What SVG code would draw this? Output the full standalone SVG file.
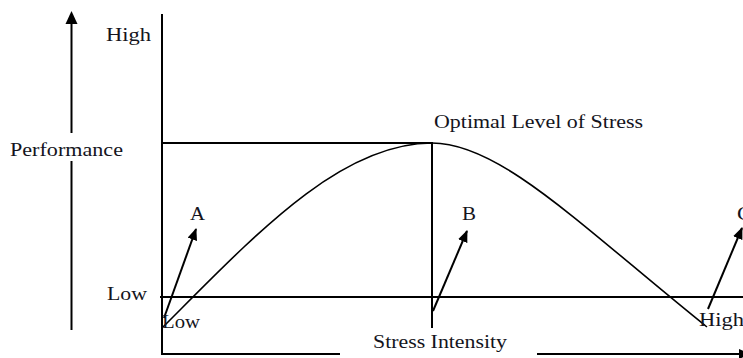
<svg xmlns="http://www.w3.org/2000/svg" width="743" height="358" viewBox="0 0 743 358">
  <style>
    .ax { stroke: #000; stroke-width: 2; fill: none; }
    .cv { stroke: #000; stroke-width: 1.6; fill: none; }
    .ar { stroke: #000; stroke-width: 2; fill: none; marker-end: url(#head); }
    text { font-family: "Liberation Serif", "Times New Roman", serif; font-size: 18px; fill: #141420; }
  </style>
  <defs>
    <marker id="head" viewBox="0 0 12 10" refX="11" refY="5" markerWidth="12" markerHeight="10" markerUnits="userSpaceOnUse" orient="auto">
      <path d="M0,0 L12,5 L0,10 Z" fill="#000"/>
    </marker>
  </defs>
  <rect width="743" height="358" fill="#fff"/>

  <g id="performance-axis">
    <line class="ax" x1="71.5" y1="24" x2="71.5" y2="133"/>
    <polygon points="71.5,11 65.5,24 77.5,24" fill="#000"/>
    <line class="ax" x1="71.5" y1="161" x2="71.5" y2="330"/>
    <text x="10" y="156" textLength="113" lengthAdjust="spacingAndGlyphs">Performance</text>
  </g>

  <g id="frame">
    <line class="ax" x1="162" y1="14" x2="162" y2="354"/>
    <line class="ax" x1="161" y1="354" x2="340" y2="354"/>
    <line class="ax" x1="537" y1="354" x2="740" y2="354"/>
    <polygon points="739,349 751,354 739,359" fill="#000"/>
    <line class="ax" x1="162" y1="143" x2="433" y2="143"/>
    <line class="ax" x1="432" y1="143" x2="432" y2="328"/>
    <line class="ax" x1="160" y1="297" x2="743" y2="297"/>
  </g>

  <g id="curve">
    <path class="cv" d="M163,327 C 255,235 340,143 432,143 C 500,143 580,225 707,327"/>
  </g>

  <g id="connectors">
    <line class="ar" x1="164" y1="318" x2="196" y2="229"/>
    <line class="ar" x1="433" y1="311" x2="467" y2="231"/>
    <line class="ar" x1="708" y1="309" x2="742" y2="228"/>
  </g>

  <g id="labels">
    <text x="106" y="41" textLength="45" lengthAdjust="spacingAndGlyphs">High</text>
    <text x="107" y="300" textLength="40" lengthAdjust="spacingAndGlyphs">Low</text>
    <text x="162" y="328" textLength="38" lengthAdjust="spacingAndGlyphs">Low</text>
    <text x="699" y="326" textLength="45" lengthAdjust="spacingAndGlyphs">High</text>
    <text x="190" y="220" textLength="15" lengthAdjust="spacingAndGlyphs">A</text>
    <text x="462" y="220" textLength="14" lengthAdjust="spacingAndGlyphs">B</text>
    <text x="737" y="220" textLength="15" lengthAdjust="spacingAndGlyphs">C</text>
    <text x="434" y="128" textLength="209" lengthAdjust="spacingAndGlyphs">Optimal Level of Stress</text>
    <text x="373" y="348" textLength="134" lengthAdjust="spacingAndGlyphs">Stress Intensity</text>
  </g>
</svg>
